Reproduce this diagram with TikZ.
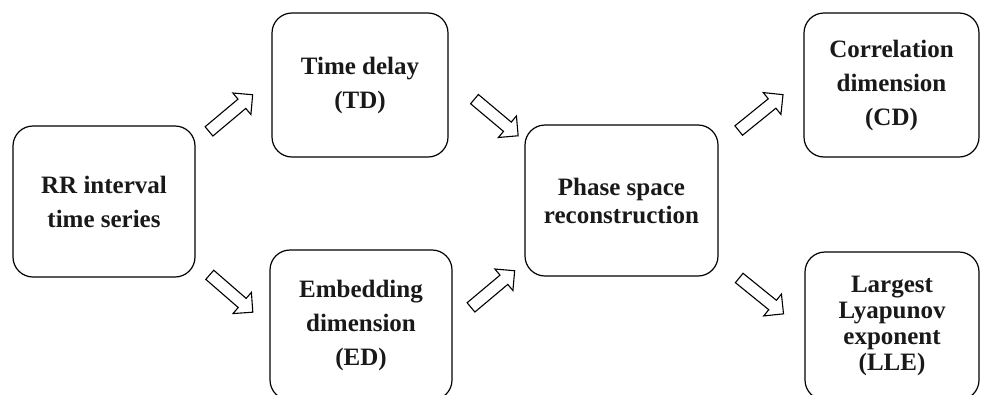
\documentclass[tikz,border=0pt]{standalone}
\usepackage{fontspec}
\setmainfont{Liberation Serif}
\usetikzlibrary{shapes.arrows}

\begin{document}
\begin{tikzpicture}[x=1pt, y=-1pt,
	box/.style={draw, line width=1.2pt, rounded corners=20pt, align=center,
		font=\fontsize{25}{34}\selectfont\bfseries, text=black!90},
	blkarrow/.style={single arrow, draw, line width=1.1pt, fill=white,
		minimum height=57pt, single arrow head extend=8pt,
		inner xsep=0pt, inner ysep=5.5pt}]
	\useasboundingbox (0,0) rectangle (981,394);
	\clip (0,0) rectangle (981,394);

	%% Kaesten
	\node[box, minimum width=182pt, minimum height=151pt] (rr) at (104,201.5) {RR interval\\time series};
	\node[box, minimum width=176pt, minimum height=144pt] (td) at (360,85) {Time delay\\(TD)};
	\node[box, minimum width=182pt, minimum height=150pt] (ed) at (361,325) {Embedding\\dimension\\(ED)};
	\node[box, minimum width=193pt, minimum height=151pt,
		font=\fontsize{25}{28}\selectfont\bfseries] (ps) at (621.5,200.5) {Phase space\\reconstruction};
	\node[box, minimum width=175pt, minimum height=144pt] (cd) at (891.5,85) {Correlation\\dimension\\(CD)};
	\node[box, minimum width=174pt, minimum height=148pt,
		font=\fontsize{25}{26}\selectfont\bfseries] (lle) at (892,326) {Largest\\Lyapunov\\exponent\\(LLE)};

	%%%%%%%%%%%%%%%%

	%% Pfeile
	\node[blkarrow, rotate=40] (a1) at (228.5,115) {};
	\node[blkarrow, rotate=-41] (a2) at (229,291.5) {};
	\node[blkarrow, rotate=-40] (a3) at (494,115.5) {};
	\node[blkarrow, rotate=40] (a4) at (490.5,291) {};
	\node[blkarrow, rotate=39] (a5) at (758.5,114.5) {};
	\node[blkarrow, rotate=-39] (a6) at (759,294) {};
\end{tikzpicture}
\end{document}
